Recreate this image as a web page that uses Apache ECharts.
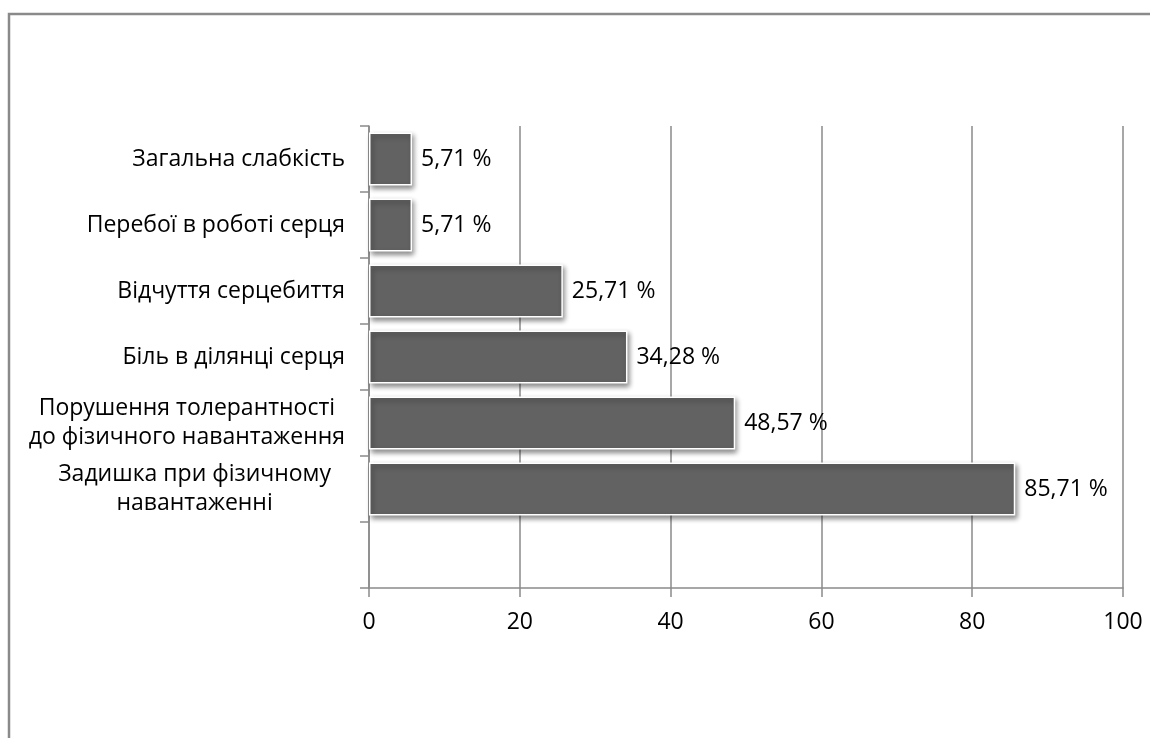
<!DOCTYPE html>
<html>
<head>
<meta charset="utf-8">
<script src="https://cdn.jsdelivr.net/npm/echarts@6/dist/echarts.min.js"></script>
<style>
  html, body { margin: 0; padding: 0; background: #fff; }
  #chart { width: 1150px; height: 738px; }
</style>
</head>
<body>
<div id="chart"></div>
<script>
// Symptoms, listed bottom to top; the first slot is left empty.
const categories = [
  '',
  'Задишка при фізичному\nнавантаженні',
  'Порушення толерантності\nдо фізичного навантаження',
  'Біль в ділянці серця',
  'Відчуття серцебиття',
  'Перебої в роботі серця',
  'Загальна слабкість'
];
// Share of patients, %
const values = [null, 85.71, 48.57, 34.28, 25.71, 5.71, 5.71];
const xTicks = [0, 20, 40, 60, 80, 100];

const FONT = '"Open Sans", sans-serif';
const FS = 23;
const axisGray = '#8a8a8a';

const chart = echarts.init(document.getElementById('chart'));

chart.setOption({
  animation: false,
  backgroundColor: '#ffffff',
  graphic: [{
    type: 'rect',
    shape: { x: 9, y: 14, width: 1300, height: 900 },
    style: { fill: 'none', stroke: '#8a8a8a', lineWidth: 2.5 },
    silent: true
  }],
  grid: { left: 369, right: 27, top: 126, bottom: 150 },
  xAxis: {
    type: 'value',
    min: xTicks[0],
    max: xTicks[xTicks.length - 1],
    interval: 20,
    axisLine: { show: true, lineStyle: { color: axisGray, width: 1.5 } },
    axisTick: { show: true, length: 9, lineStyle: { color: axisGray, width: 1.5 } },
    splitLine: { show: true, lineStyle: { color: axisGray, width: 1.5 } },
    axisLabel: { color: '#000', fontFamily: FONT, fontSize: FS, margin: 23 }
  },
  yAxis: {
    type: 'category',
    data: categories,
    axisLine: { show: true, lineStyle: { color: axisGray, width: 1.5 } },
    axisTick: { show: true, length: 9, alignWithLabel: false, lineStyle: { color: axisGray, width: 1.5 } },
    splitLine: { show: false },
    axisLabel: {
      margin: 24,
      interval: 0,
      align: 'right',
      formatter: function (v) {
        if (!v) return '';
        const cls = v.indexOf('Задишка') === 0 ? 'z' : 'c';
        return v.split('\n').map(function (l) { return '{' + cls + '|' + l + '}'; }).join('\n');
      },
      rich: {
        c: { color: '#000', fontFamily: FONT, fontSize: FS, lineHeight: 29, align: 'center' },
        z: { color: '#000', fontFamily: FONT, fontSize: FS, lineHeight: 29, align: 'center', padding: [0, 14, 0, 0] }
      }
    }
  },
  series: [{
    type: 'bar',
    data: values,
    barWidth: 53,
    itemStyle: {
      color: '#626262',
      borderColor: '#ffffff',
      borderWidth: 1.5,
      shadowColor: 'rgba(0,0,0,0.45)',
      shadowBlur: 5,
      shadowOffsetX: 2,
      shadowOffsetY: 3
    },
    label: {
      show: true,
      position: 'right',
      distance: 9,
      color: '#000',
      fontFamily: FONT,
      fontSize: FS,
      formatter: function (p) {
        return p.value == null ? '' : p.value.toFixed(2).replace('.', ',') + ' %';
      }
    }
  }]
});
</script>
</body>
</html>
